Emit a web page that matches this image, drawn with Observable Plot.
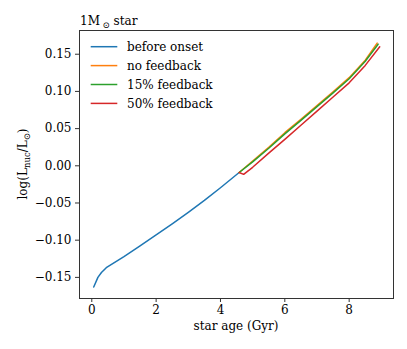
<!DOCTYPE html>
<html>
<head>
<meta charset="utf-8">
<script src="https://cdn.jsdelivr.net/npm/d3@7"></script>
<script src="https://cdn.jsdelivr.net/npm/@observablehq/plot@0.6"></script>
<style>
  html, body { margin: 0; padding: 0; background: white; }
  #chart { position: relative; width: 407px; height: 349px; }
</style>
</head>
<body>
<div id="chart"></div>
<script>
// ---- data ----
const seriesNames = ["before onset", "no feedback", "15% feedback", "50% feedback"];
const seriesColors = ["#1f77b4", "#ff7f0e", "#2ca02c", "#d62728"];

const beforeAge = [0.06, 0.19, 0.3, 0.45, 1.0, 1.5, 2.0, 2.5, 3.0, 3.5, 4.0, 4.58];
const beforeLum = [-0.163, -0.150, -0.1435, -0.137, -0.122, -0.1075, -0.093, -0.078, -0.0625, -0.0465, -0.0295, -0.009];

const noFbAge = [4.58, 5.0, 5.5, 6.0, 6.5, 7.0, 7.5, 8.0, 8.5, 8.87];
const noFbLum = [-0.009, 0.0065, 0.025, 0.0445, 0.0625, 0.081, 0.0995, 0.1185, 0.142, 0.165];

const fb15Age = [4.58, 5.0, 5.5, 6.0, 6.5, 7.0, 7.5, 8.0, 8.5, 8.9];
const fb15Lum = [-0.009, 0.0052, 0.0236, 0.043, 0.061, 0.0795, 0.098, 0.117, 0.1405, 0.1635];

const fb50Age = [4.58, 4.72, 5.0, 5.5, 6.0, 6.5, 7.0, 7.5, 8.0, 8.5, 8.95];
const fb50Lum = [-0.009, -0.0115, -0.002, 0.017, 0.0355, 0.0545, 0.0735, 0.0925, 0.1115, 0.135, 0.160];

const xTicks = [0, 2, 4, 6, 8];
const yTicks = [-0.15, -0.10, -0.05, 0.00, 0.05, 0.10, 0.15];

const xLabel = "star age (Gyr)";

// ---- build table ----
const allAges = [beforeAge, noFbAge, fb15Age, fb50Age];
const allLums = [beforeLum, noFbLum, fb15Lum, fb50Lum];
const rows = [];
allAges.forEach((ages, i) => {
  ages.forEach((a, j) => rows.push({series: seriesNames[i], age: a, lum: allLums[i][j]}));
});

const font = "DejaVu Serif";

const plot = Plot.plot({
  width: 407,
  height: 349,
  marginLeft: 79,
  marginRight: 14,
  marginTop: 30,
  marginBottom: 51,
  style: {fontFamily: font, fontSize: "12px", background: "white", color: "black", overflow: "visible"},
  x: {domain: [-0.382, 9.378]},
  y: {domain: [-0.1784, 0.1819]},
  color: {domain: seriesNames, range: seriesColors},
  marks: [
    Plot.line(rows, {x: "age", y: "lum", z: "series", stroke: "series", strokeWidth: 1.5, curve: "linear"}),
    Plot.frame({stroke: "#333", strokeWidth: 1}),
    Plot.axisX({ticks: xTicks, tickSize: 4, tickPadding: 3, label: null, tickFormat: d => String(d), stroke: "#333", fontSize: 12}),
    Plot.axisY({ticks: yTicks, tickSize: 4, tickPadding: 4, label: null,
      tickFormat: d => d.toFixed(2).replace("-", "\u2212").replace(/^\u22120\.00$/, "0.00"), stroke: "#333", fontSize: 12})
  ]
});

document.getElementById("chart").appendChild(plot);

const svg = d3.select(plot);

// x label
svg.append("text")
  .attr("x", 236).attr("y", 330)
  .attr("text-anchor", "middle")
  .attr("font-family", font).attr("font-size", 12)
  .attr("fill", "black")
  .text(xLabel);

// y label with subscripts
const yl = svg.append("text")
  .attr("transform", "translate(27,164) rotate(-90)")
  .attr("text-anchor", "middle")
  .attr("font-family", font).attr("font-size", 12)
  .attr("fill", "black");
yl.append("tspan").text("log(L");
yl.append("tspan").attr("font-size", 8.5).attr("dy", 2.5).text("nuc");
yl.append("tspan").attr("dy", -2.5).text("/L");
yl.append("tspan").attr("font-size", 8.5).attr("dy", 2.5).text("\u2299");
yl.append("tspan").attr("dy", -2.5).text(")");

// title
const tt = svg.append("text")
  .attr("x", 80).attr("y", 25)
  .attr("text-anchor", "start")
  .attr("font-family", font).attr("font-size", 12)
  .attr("fill", "black");
tt.append("tspan").text("1M");
tt.append("tspan").attr("font-size", 8.5).attr("dy", 3).text(" \u2299");
tt.append("tspan").attr("dy", -3).text(" star");

// legend
const legend = svg.append("g");
seriesNames.forEach((name, i) => {
  const cy = 46.7 + i * 18.9;
  legend.append("line")
    .attr("x1", 90.7).attr("x2", 117.3)
    .attr("y1", cy).attr("y2", cy)
    .attr("stroke", seriesColors[i]).attr("stroke-width", 1.5);
  legend.append("text")
    .attr("x", 127).attr("y", cy + 4.3)
    .attr("text-anchor", "start")
    .attr("font-family", font).attr("font-size", 12)
    .attr("fill", "black")
    .text(name);
});
</script>
</body>
</html>
